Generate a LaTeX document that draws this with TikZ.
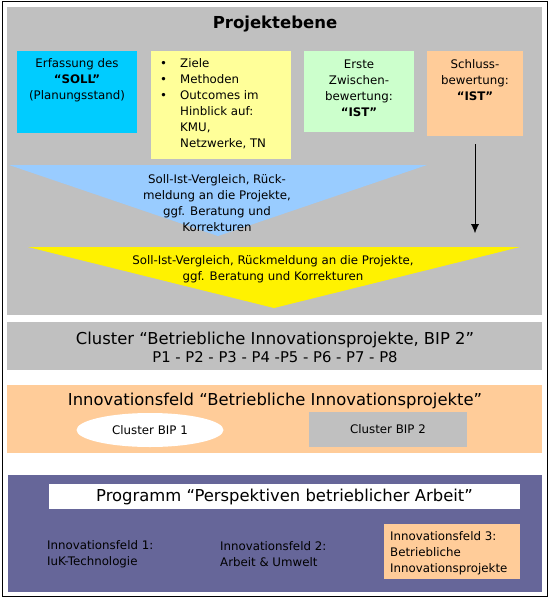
\documentclass[tikz,border=0pt]{standalone}
\usepackage{fontspec}
\setmainfont{DejaVu Sans}
\usetikzlibrary{arrows.meta,shapes.geometric}

\definecolor{sollblau}{RGB}{0,204,255}
\definecolor{hellgelb}{RGB}{255,255,153}
\definecolor{hellgruen}{RGB}{204,255,204}
\definecolor{pfirsich}{RGB}{255,204,153}
\definecolor{hellblau}{RGB}{153,204,255}
\definecolor{grau}{RGB}{192,192,192}
\definecolor{lila}{RGB}{102,102,153}

\begin{document}
\begin{tikzpicture}[x=1pt, y=-1pt,
  txt/.style={inner sep=0pt, align=center, font=\fontsize{11.8}{16}\selectfont},
  kopf/.style={inner sep=0pt, align=center, font=\fontsize{16.4}{18}\selectfont}]
  \useasboundingbox (0,0) rectangle (550,598);

  % outer frame
  \draw[line width=1pt] (2,1.5) rectangle (547.5,596);

  % project level
  \fill[grau] (7,7) rectangle (542,315);
  \node[inner sep=0pt, font=\fontsize{16.5}{18}\selectfont\bfseries] (titel) at (275,24) {Projektebene};

  % the four cards
  \fill[sollblau]  (17,51)  rectangle (137,133);
  \fill[hellgelb]  (151,51) rectangle (291,159);
  \fill[hellgruen] (304,51) rectangle (414,132);
  \fill[pfirsich]  (427,51) rectangle (523,136);

  \node[txt] (soll) at (77,80) {Erfassung des\\\textbf{“SOLL”}\\(Planungsstand)};
  \node[txt, anchor=north west] (ziele) at (160,56)
    {\begin{tabular}{@{}p{20pt}@{}l@{}}
      \textbullet & Ziele\\
      \textbullet & Methoden\\
      \textbullet & Outcomes im\\
                  & Hinblick auf:\\
                  & KMU,\\
                  & Netzwerke, TN
    \end{tabular}};
  \node[txt] (zwischen) at (359,88) {Erste\\Zwischen-\\bewertung:\\\textbf{“IST”}};
  \node[txt] (schluss) at (475,80) {Schluss-\\bewertung:\\\textbf{“IST”}};

  % first comparison
  \fill[hellblau] (9,165) -- (427,165) -- (218,236) -- cycle;
  \node[txt] (vergleichA) at (217,203)
    {Soll-Ist-Vergleich, Rück-\\meldung an die Projekte,\\ggf. Beratung und\\Korrekturen};

  % arrow below the final rating
  \coordinate (pfeilA) at (475,144);
  \coordinate (pfeilB) at (475,233);
  \draw[-{Latex[length=9pt,width=8pt]}] (pfeilA) -- (pfeilB);

  % second comparison
  \fill[yellow] (28,247) -- (520,247) -- (274,308) -- cycle;
  \node[txt] (vergleichB) at (273,269)
    {Soll-Ist-Vergleich, Rückmeldung an die Projekte,\\ggf. Beratung und Korrekturen};

  % cluster
  \fill[grau] (7,322) rectangle (542,370);
  \node[kopf] (cluster) at (275,347)
    {Cluster “Betriebliche Innovationsprojekte, BIP 2”\\
     {\fontsize{14.8}{18}\selectfont P1 - P2 - P3 - P4 -P5 - P6 - P7 - P8}};

  % innovation field
  \fill[pfirsich] (7,385) rectangle (542,453);
  \node[kopf] (feld) at (275,401) {Innovationsfeld “Betriebliche Innovationsprojekte”};
  \node[ellipse, fill=white, minimum width=147pt, minimum height=34pt, inner sep=0pt,
    font=\fontsize{11.8}{16}\selectfont] (bipA) at (150,430) {Cluster BIP 1};
  \node[fill=grau, minimum width=158pt, minimum height=35pt, inner sep=0pt,
    font=\fontsize{11.8}{16}\selectfont] (bipB) at (388,429.5) {Cluster BIP 2};

  % programme
  \fill[lila] (8,475) rectangle (542,592);
  \node[kopf, fill=white, minimum width=471pt, minimum height=25pt] (programm) at (284.5,496.5)
    {Programm “Perspektiven betrieblicher Arbeit”};
  \node[txt, align=left, anchor=west] (feldA) at (47,554) {Innovationsfeld 1:\\IuK-Technologie};
  \node[txt, align=left, anchor=west] (feldB) at (220,554) {Innovationsfeld 2:\\Arbeit \& Umwelt};
  \fill[pfirsich] (384,524) rectangle (520,579);
  \node[txt, align=left, anchor=west] (feldC) at (390,553)
    {Innovationsfeld 3:\\Betriebliche\\Innovationsprojekte};
\end{tikzpicture}
\end{document}
